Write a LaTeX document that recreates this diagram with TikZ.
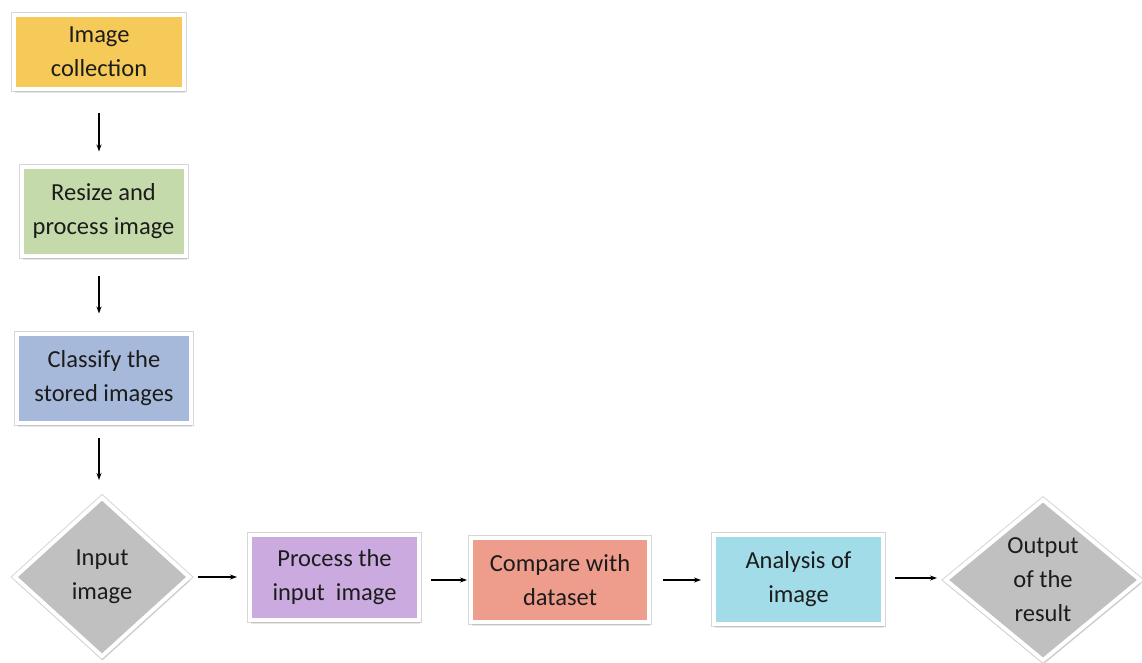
\documentclass[tikz,border=0pt]{standalone}
\usepackage{fontspec}
\setmainfont{Carlito}
\usetikzlibrary{shapes.geometric,shadows,arrows.meta}
\definecolor{cgold}{HTML}{F6CA58}
\definecolor{cgreen}{HTML}{C4DAAA}
\definecolor{cblue}{HTML}{A6B9DB}
\definecolor{cpurple}{HTML}{CBABDF}
\definecolor{csalmon}{HTML}{EE9C8C}
\definecolor{ccyan}{HTML}{A2DCE8}
\definecolor{cgrey}{HTML}{C0C0C0}
\definecolor{ctext}{HTML}{1C1C1C}
\tikzset{
  bevel/.style={preaction={draw=black!16, line width=6pt},
    drop shadow={opacity=0.2, shadow xshift=1pt, shadow yshift=-4pt}},
  box/.style={rectangle, draw=white, line width=4pt, inner sep=0pt, align=center,
    text=ctext, font=\fontsize{24.5}{34}\selectfont, bevel},
  dia/.style={diamond, draw=white, line width=4pt, inner sep=0pt, align=center,
    fill=cgrey, text=ctext, font=\fontsize{24.5}{34}\selectfont, bevel},
  arr/.style={-{Stealth[length=7pt,width=5pt]}, line width=1.1pt, black}
}
\begin{document}
\begin{tikzpicture}[x=1pt,y=-1pt]
\useasboundingbox (0,0) rectangle (1142,662);
\node[box, fill=cgold, minimum width=170pt, minimum height=74pt] (a) at (99,52) {Image\\collection};
\node[box, fill=cgreen, minimum width=164pt, minimum height=89pt] (b) at (103.5,211) {Resize and\\process image};
\node[box, fill=cblue, minimum width=174pt, minimum height=89pt] (c) at (104,378) {Classify the\\stored images};
\node[dia, minimum width=176pt, minimum height=160pt] (d) at (102,577) {Input\\image};
\node[box, fill=cpurple, minimum width=169pt, minimum height=85pt] (e) at (334.5,577.5) {Process the\\input\ \ image};
\node[box, fill=csalmon, minimum width=178pt, minimum height=84pt] (f) at (560,580) {Compare with\\dataset};
\node[box, fill=ccyan, minimum width=169pt, minimum height=89pt] (g) at (798.5,579.5) {Analysis of\\image};
\node[dia, minimum width=196pt, minimum height=162pt] (h) at (1043,580) {Output\\of the\\result};
\draw[arr, shorten <=22pt, shorten >=13pt] (a.south) -- (a.south |- b.north);
\draw[arr, shorten <=18pt, shorten >=18pt] (b.south -| a.south) -- (a.south |- c.north);
\draw[arr, shorten <=13pt, shorten >=15pt] (c.south -| a.south) -- (a.south |- d.north);
\draw[arr, shorten <=6pt, shorten >=11pt] (d.east) -- (d.east -| e.west);
\draw[arr, shorten <=10pt, shorten >=2pt] (e.east |- f.west) -- (f.west);
\draw[arr, shorten <=12pt, shorten >=11pt] (f.east) -- (f.east -| g.west);
\draw[arr, shorten <=10pt, shorten >=6pt] (g.east |- 0,578) -- (h.west |- 0,578);
\end{tikzpicture}
\end{document}
